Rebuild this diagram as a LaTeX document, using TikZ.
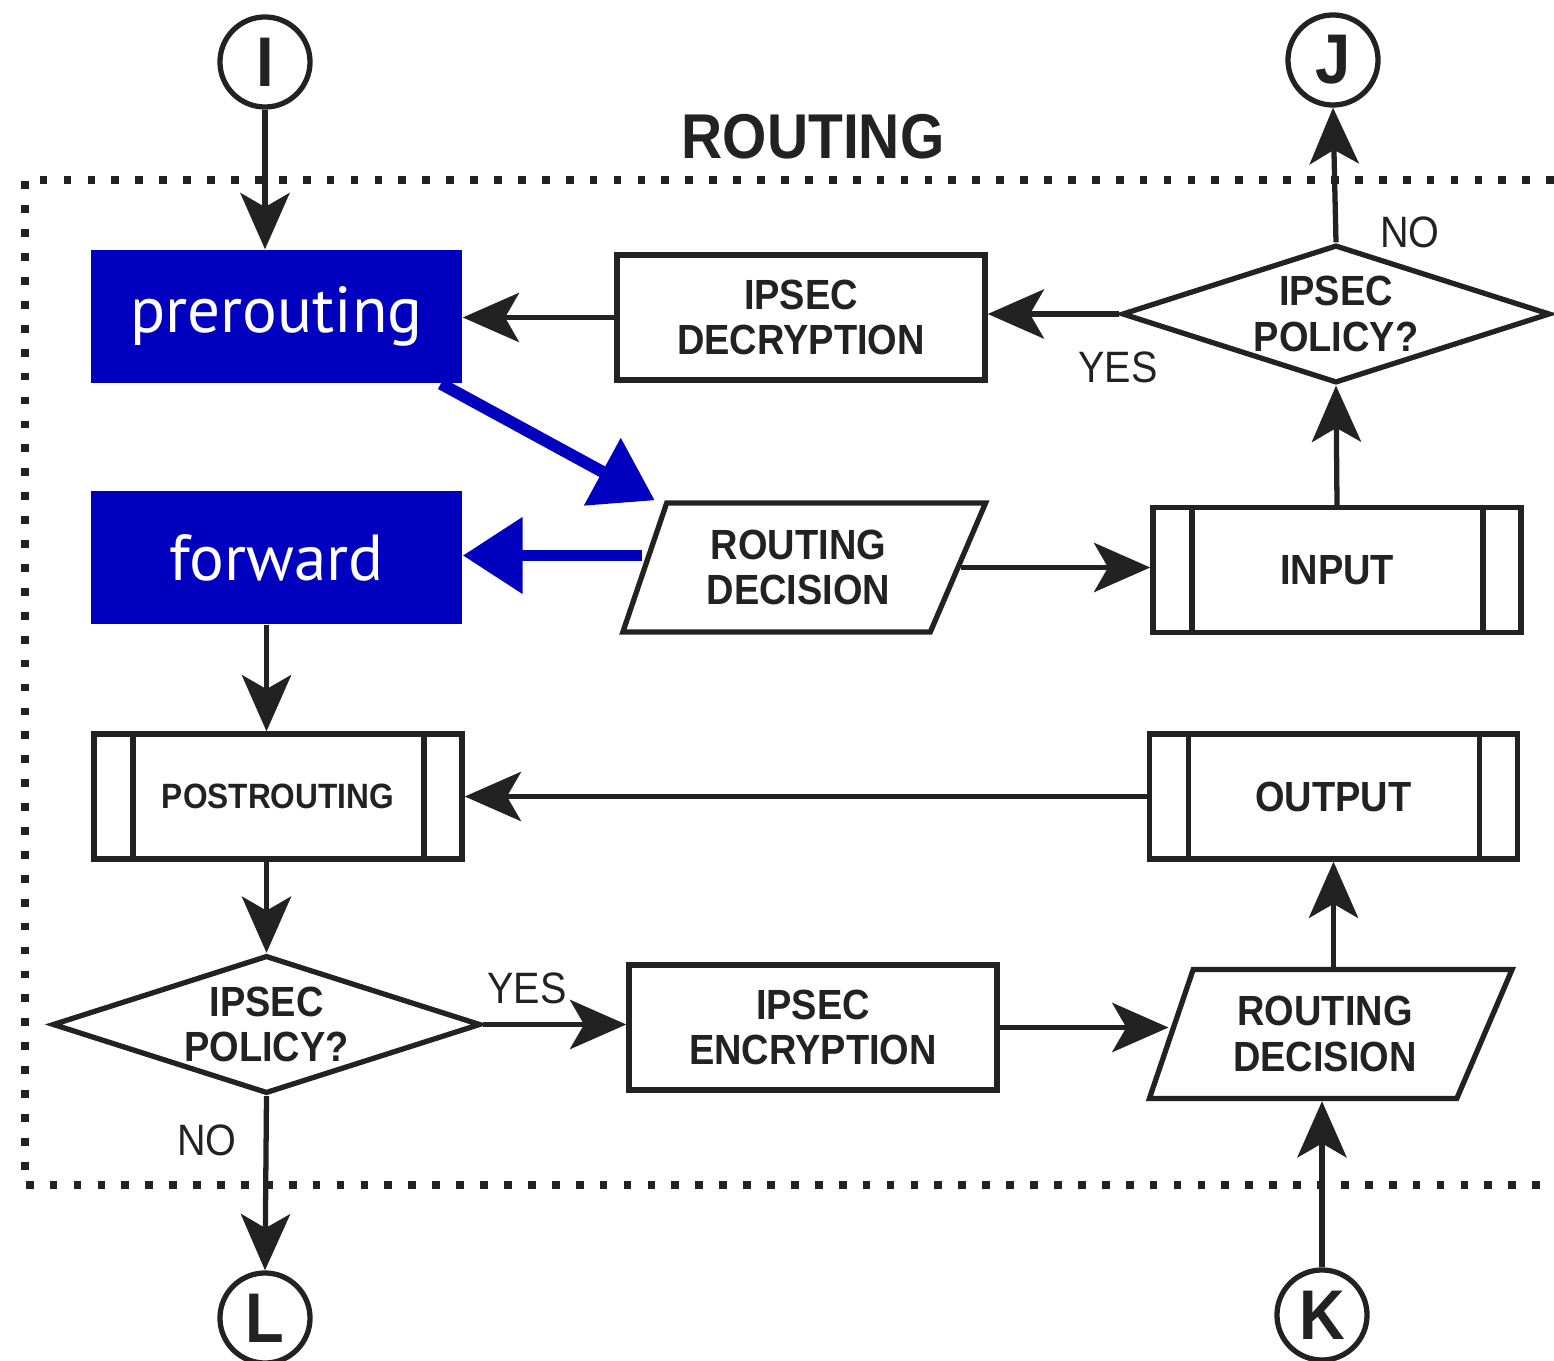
\documentclass[tikz,border=0pt]{standalone}
\usepackage{fontspec}
\newfontfamily\chartfont{Liberation Sans}[FakeStretch=0.9]
\newfontfamily\hookfont{PT Sans}
\usepackage{tikz}
\usetikzlibrary{arrows.meta, shapes.geometric}
\definecolor{ink}{HTML}{222222}
\definecolor{hookblue}{HTML}{0000BE}
\tikzset{
    flowshape/.style={draw=ink, line width=1.5pt, fill=white, inner sep=0pt, text=ink, align=center, font=\chartfont\bfseries\fontsize{12}{13}\selectfont},
    procbox/.style={flowshape, rectangle, minimum width=3.68cm, minimum height=1.25cm},
    hookbox/.style={procbox, path picture={
        \draw[ink, line width=1.5pt] ([xshift=0.39cm]path picture bounding box.north west) -- ([xshift=0.39cm]path picture bounding box.south west);
        \draw[ink, line width=1.5pt] ([xshift=-0.38cm]path picture bounding box.north east) -- ([xshift=-0.38cm]path picture bounding box.south east);}},
    policy/.style={flowshape, diamond, aspect=3.1, minimum width=4.28cm, minimum height=1.38cm},
    decision/.style={flowshape, trapezium, trapezium left angle=68, trapezium right angle=117, trapezium stretches=true, minimum width=3.63cm, minimum height=1.29cm},
    hook/.style={rectangle, fill=hookblue, text=white, inner sep=0pt, minimum width=3.71cm, minimum height=1.33cm, font=\hookfont\fontsize{18.5}{22}\selectfont},
    connector/.style={circle, draw=ink, line width=1.5pt, minimum size=0.9cm, inner sep=0pt, text=ink, font=\chartfont\bfseries\fontsize{20}{20}\selectfont},
    answer/.style={text=ink, inner sep=0pt, font=\chartfont\fontsize{12.5}{13}\selectfont},
    flow/.style={draw=ink, line width=1.5pt, -{Stealth[length=16pt, width=14pt, inset=4pt]}},
    blueflow/.style={draw=hookblue, line width=3.4pt, -{Triangle[length=17pt, width=21pt]}},
    boundary/.style={draw=ink, line width=2.2pt, dash pattern=on 2.2pt off 4.6pt}
}

\begin{document}
\begin{tikzpicture}[x=0.01cm, y=-0.01cm]
    \useasboundingbox (0,0) rectangle (1554,1361);
    \draw[boundary] (1554,180) -- (25,180) -- (25,1185) -- (1554,1185); % routing area
    \node[text=ink, font=\chartfont\bfseries\fontsize{18}{18}\selectfont] (title) at (813,137) {ROUTING};
    % connectors
    \node[connector] (conI) at (265,62) {I};
    \node[connector] (conJ) at (1333,60) {J};
    \node[connector] (conL) at (265,1318) {L};
    \node[connector] (conK) at (1322,1315) {K};
    % top half
    \node[hook] (pre) at (276.5,316.5) {prerouting};
    \node[hook] (fwd) at (276.5,557.5) {forward};
    \node[procbox] (dec) at (801,317.5) {IPSEC\\DECRYPTION};
    \node[policy] (polT) at (1336,314) {IPSEC\\POLICY?};
    \node[decision] (rdT) at (798.5,567.5) {ROUTING\\DECISION};
    \node[hookbox] (inp) at (1337,570) {INPUT};
    % bottom half
    \node[hookbox, font=\chartfont\bfseries\fontsize{10}{12}\selectfont] (post) at (278,796.5) {POSTROUTING};
    \node[hookbox] (outp) at (1333.5,796.5) {OUTPUT};
    \node[policy] (polB) at (266.5,1024.5) {IPSEC\\POLICY?};
    \node[procbox] (enc) at (813,1027.5) {IPSEC\\ENCRYPTION};
    \node[decision] (rdB) at (1325,1034) {ROUTING\\DECISION};
    % answers
    \node[answer] (yesT) at (1118,367) {YES};
    \node[answer] (noT) at (1410,232) {NO};
    \node[answer] (yesB) at (527,988) {YES};
    \node[answer] (noB) at (207,1140) {NO};
    % arrows
    \draw[flow] (conI) -- (conI |- pre.north);
    \draw[flow] (dec.west) -- (dec.west -| pre.east);
    \draw[flow] (polT.west) -- (polT.west -| dec.east);
    \draw[flow] (polT.north) -- (conJ.south);
    \draw[flow] (inp.north) -- (polT.south);
    \draw[flow] (rdT.east) -- (rdT.east -| inp.west);
    \draw[flow] (polB.north |- fwd.south) -- (polB.north |- post.north);
    \draw[flow] (outp.west) -- (outp.west -| post.east);
    \draw[flow] (polB.north |- post.south) -- (polB.north);
    \draw[flow] (polB.east) -- (polB.east -| enc.west);
    \draw[flow] (enc.east) -- (enc.east -| rdB.west);
    \draw[flow] (rdB.north -| outp.south) -- (outp.south);
    \draw[flow] (conK.north) -- (conK.north |- rdB.south);
    \draw[flow] (polB.south) -- (conL.north);
    \draw[blueflow] ([xshift=-0.22cm]pre.south east) -- ([xshift=-0.1cm]rdT.top left corner);
    \draw[blueflow] ([yshift=0.12cm]rdT.west) -- ([yshift=0.12cm]rdT.west -| fwd.east);
\end{tikzpicture}
\end{document}
